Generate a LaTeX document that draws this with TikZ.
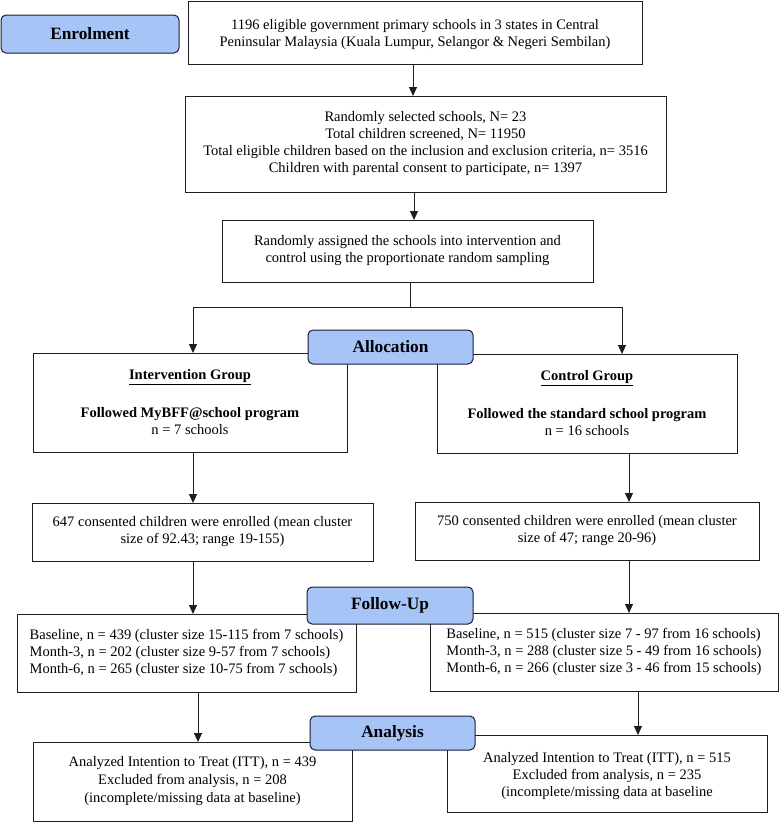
\documentclass[tikz,border=0pt]{standalone}
\usepackage{fontspec}
\setmainfont{Liberation Serif}
\usetikzlibrary{arrows.meta}
\definecolor{lblue}{RGB}{166,196,245}
\definecolor{edge}{RGB}{30,30,30}
\tikzset{
  box/.style={draw=edge, line width=1pt, fill=white, inner sep=0pt, outer sep=0pt, align=center,
    font=\fontsize{14.5}{17}\selectfont},
  txt/.style={inner sep=0pt, align=center, font=\fontsize{14.5}{17}\selectfont},
  phase/.style={draw=edge!90!blue, line width=1pt, fill=lblue, rounded corners=5pt, inner sep=0pt, outer sep=0pt,
    font=\fontsize{17.3}{20}\selectfont\bfseries},
  arr/.style={draw=edge, line width=1pt, -{Triangle[width=8pt,length=9pt]}},
  ln/.style={draw=edge, line width=1pt}
}
\begin{document}
\begin{tikzpicture}[x=1pt,y=-1pt]
\useasboundingbox (0,0) rectangle (779,822);
% column coordinates
\coordinate (xa) at (413,0);
\coordinate (xb) at (414,0);
\coordinate (jn) at (410,307);
\coordinate (cL) at (193,0);
\coordinate (cR) at (622,0);
\coordinate (cR2) at (629,0);
\coordinate (cL3) at (198,0);
\coordinate (cR3) at (638,0);

\node[box, minimum width=454, minimum height=63] (b1) at (415,32.5) {};
\node[txt] (b1t) at ([yshift=-2pt]b1.center)
  {1196 eligible government primary schools in 3 states in Central\\Peninsular Malaysia (Kuala Lumpur, Selangor \& Negeri Sembilan)};
\node[box, minimum width=481, minimum height=96] (b2) at (425.5,144)
  {Randomly selected schools, N= 23\\Total children screened, N= 11950\\Total eligible children based on the inclusion and exclusion criteria, n= 3516\\Children with parental consent to participate, n= 1397};
\node[box, minimum width=371, minimum height=62] (b3) at (407.5,251)
  {Randomly assigned the schools into intervention and\\control using the proportionate random sampling};
\node[box, minimum width=314, minimum height=99] (iv) at (190,402.5)
  {\underline{\textbf{Intervention Group}}\\[21pt]\textbf{Followed MyBFF@school program}\\n = 7 schools};
\node[box, minimum width=300, minimum height=99] (ct) at (587,403.5)
  {\underline{\textbf{Control Group}}\\[21pt]\textbf{Followed the standard school program}\\n = 16 schools};
\node[box, minimum width=341, minimum height=58] (e1) at (202.5,532)
  {647 consented children were enrolled (mean cluster\\size of 92.43; range 19-155)};
\node[box, minimum width=344, minimum height=58] (e2) at (587,531)
  {750 consented children were enrolled (mean cluster\\size of 47; range 20-96)};
\node[box, align=left, minimum width=339, minimum height=78] (f1) at (186.5,653)
  {Baseline, n = 439 (cluster size 15-115 from 7 schools)\\Month-3, n = 202 (cluster size 9-57 from 7 schools)\\Month-6, n = 265 (cluster size 10-75 from 7 schools)};
\node[box, align=left, minimum width=348, minimum height=78] (f2) at (604,652)
  {Baseline, n = 515 (cluster size 7 - 97 from 16 schools)\\Month-3, n = 288 (cluster size 5 - 49 from 16 schools)\\Month-6, n = 266 (cluster size 3 - 46 from 15 schools)};
\node[box, minimum width=319, minimum height=79, font=\fontsize{14.5}{18}\selectfont] (a1) at (192.5,781.5)
  {Analyzed Intention to Treat (ITT), n = 439\\Excluded from analysis, n = 208\\(incomplete/missing data at baseline)};
\node[box, minimum width=320, minimum height=77] (a2) at (607,773.5) {};
\node[txt] (a2t) at ([yshift=-3pt]a2.center)
  {Analyzed Intention to Treat (ITT), n = 515\\Excluded from analysis, n = 235\\(incomplete/missing data at baseline};

% connectors
\draw[arr] (b1.south -| xa) -- (b2.north -| xa);
\draw[arr] (b2.south -| xb) -- (b3.north -| xb);
\draw[ln] (b3.south -| jn) -- (jn);
\draw[arr] (jn) -| (iv.north -| cL);
\draw[arr] (jn) -| (ct.north -| cR);
\draw[arr] (iv.south -| cL) -- (e1.north -| cL);
\draw[arr] (ct.south -| cR2) -- (e2.north -| cR2);
\draw[arr] (e1.south -| cL) -- (f1.north -| cL);
\draw[arr] (e2.south -| cR2) -- (f2.north -| cR2);
\draw[arr] (f1.south -| cL3) -- (a1.north -| cL3);
\draw[arr] (f2.south -| cR3) -- (a2.north -| cR3);

% phase labels
\node[phase, minimum width=178, minimum height=38] (enr) at (90,34) {Enrolment};
\node[phase, minimum width=165, minimum height=34] (alc) at (390.5,347) {Allocation};
\node[phase, minimum width=166, minimum height=37] (fu) at (390,605.5) {Follow-Up};
\node[phase, minimum width=165, minimum height=34] (an) at (392.5,733) {Analysis};
\end{tikzpicture}
\end{document}
